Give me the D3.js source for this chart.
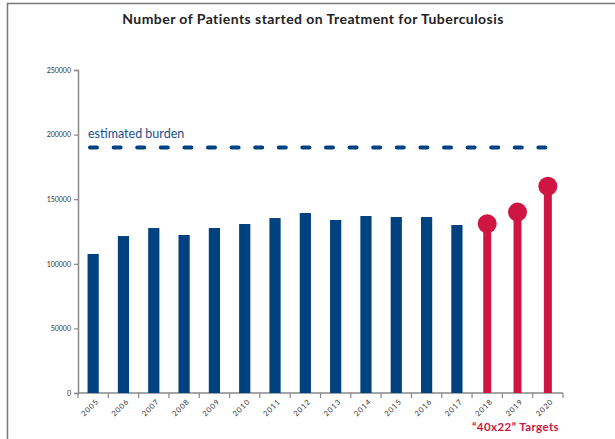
<!DOCTYPE html>
<html>
<head>
<meta charset="utf-8">
<script src="https://cdn.jsdelivr.net/npm/d3@7"></script>
<style>
body { margin: 0; background: #fff; }
svg { display: block; font-family: Lato, "Open Sans", sans-serif; }
</style>
</head>
<body>
<svg width="615" height="439"></svg>
<script>
// data
const years = ["2005","2006","2007","2008","2009","2010","2011","2012","2013","2014","2015","2016","2017","2018","2019","2020"]
const actualYears = years.slice(0, 13)
const actual = [107600, 121500, 127700, 122300, 127700, 130800, 135400, 139300, 133900, 137000, 136200, 136200, 130000]
const targetYears = ["2018","2019","2020"]
const targets = [131000, 140000, 160000]
const burden = 190000
const yTicks = [0, 50000, 100000, 150000, 200000, 250000]

const navy = "#00427f"
const red = "#cf1541"

const svg = d3.select("svg")

// frame (only top and left edges are visible)
svg.append("path")
  .attr("d", "M7.5,439 V3.5 H615")
  .attr("fill", "none")
  .attr("stroke", "#777")
  .attr("stroke-width", 1.5)

svg.append("text")
  .attr("x", 313)
  .attr("y", 24)
  .attr("text-anchor", "middle")
  .attr("font-size", 14)
  .attr("font-weight", "bold")
  .attr("letter-spacing", 0.45)
  .attr("fill", "#222")
  .text("Number of Patients started on Treatment for Tuberculosis")

const x = d3.scaleBand().domain(years).range([78, 563]).paddingInner(0.63).paddingOuter(0.315)
const xAxisScale = d3.scaleBand().domain(years).range([78, 563])
const y = d3.scaleLinear().domain([0, 250000]).range([393, 70])

const g = svg.append("g")

// y axis
const ya = g.append("g")
  .attr("transform", "translate(78,0)")
  .call(d3.axisLeft(y).tickValues(yTicks).tickSize(4).tickPadding(3).tickFormat(d3.format("d")))
ya.select(".domain").attr("stroke", "#888").attr("stroke-width", 1.5)
ya.selectAll(".tick line").attr("stroke", "#888").attr("stroke-width", 1.2)
ya.selectAll("text").attr("font-size", 7).attr("fill", "#333").attr("font-family", "Lato, sans-serif")

// x axis: ticks at band edges
const xa = g.append("g").attr("transform", "translate(0,393)")
xa.append("line")
  .attr("x1", 78).attr("x2", 563)
  .attr("stroke", "#888").attr("stroke-width", 1.5)
xa.selectAll(".edge")
  .data(years)
  .join("line")
  .attr("class", "edge")
  .attr("x1", d => xAxisScale(d) + xAxisScale.bandwidth())
  .attr("x2", d => xAxisScale(d) + xAxisScale.bandwidth())
  .attr("y1", 0).attr("y2", 5)
  .attr("stroke", "#888").attr("stroke-width", 1.2)
xa.append("line").attr("x1", 78).attr("x2", 78).attr("y1", 0).attr("y2", 5)
  .attr("stroke", "#888").attr("stroke-width", 1.2)
xa.selectAll(".lbl")
  .data(years)
  .join("text")
  .attr("class", "lbl")
  .attr("transform", d => "translate(" + (xAxisScale(d) + xAxisScale.bandwidth() / 2 + 6) + ",9) rotate(-45)")
  .attr("text-anchor", "end")
  .attr("font-size", 7.5)
  .attr("letter-spacing", 0.9)
  .attr("fill", "#333")
  .text(d => d)

// actual bars
g.selectAll(".bar")
  .data(actualYears)
  .join("rect")
  .attr("class", "bar")
  .attr("x", d => x(d))
  .attr("width", x.bandwidth())
  .attr("y", (d, i) => y(actual[i]))
  .attr("height", (d, i) => y(0) - y(actual[i]))
  .attr("fill", navy)

// targets as lollipops
g.selectAll(".stem")
  .data(targetYears)
  .join("rect")
  .attr("class", "stem")
  .attr("x", d => x(d) + x.bandwidth() / 2 - 4)
  .attr("width", 8)
  .attr("y", (d, i) => y(targets[i]))
  .attr("height", (d, i) => y(0) - y(targets[i]))
  .attr("fill", red)
g.selectAll(".head")
  .data(targetYears)
  .join("circle")
  .attr("class", "head")
  .attr("cx", d => x(d) + x.bandwidth() / 2)
  .attr("cy", (d, i) => y(targets[i]))
  .attr("r", 9.5)
  .attr("fill", red)

// estimated burden
g.append("line")
  .attr("x1", 90).attr("x2", 553)
  .attr("y1", y(burden)).attr("y2", y(burden))
  .attr("stroke", navy)
  .attr("stroke-width", 4)
  .attr("stroke-linecap", "round")
  .attr("stroke-dasharray", "7,16.6")
g.append("text")
  .attr("x", 88)
  .attr("y", y(burden) - 10)
  .attr("font-size", 12.5)
  .attr("fill", "#1a4f8f")
  .text("estimated burden")

svg.append("text")
  .attr("x", 472)
  .attr("y", 431)
  .attr("font-size", 11.5)
  .attr("font-weight", "bold")
  .attr("letter-spacing", 0.4)
  .attr("fill", red)
  .text("“40x22” Targets")
</script>
</body>
</html>
